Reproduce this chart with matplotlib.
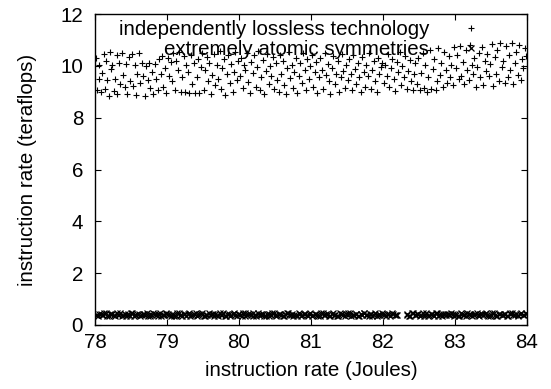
import numpy as np
import matplotlib
matplotlib.use('Agg')
import matplotlib.pyplot as plt

plt.rcParams['font.family'] = ['Liberation Sans', 'DejaVu Sans']
plt.rcParams['font.size'] = 14.8

# series 1: "independently lossless technology" (+ markers)
tech_x = [
    78.02, 78.03, 78.05, 78.06, 78.08, 78.10, 78.12, 78.14, 78.15, 78.17, 78.19, 78.21, 78.22, 78.24,
    78.26, 78.28, 78.30, 78.31, 78.33, 78.35, 78.37, 78.39, 78.41, 78.43, 78.45, 78.47, 78.49,
    78.51, 78.53, 78.55, 78.57, 78.59, 78.61, 78.63, 78.65, 78.67, 78.69, 78.71, 78.73, 78.75,
    78.77, 78.79, 78.81, 78.83, 78.85, 78.87, 78.89, 78.91, 78.93, 78.95, 78.97, 78.99,
    79.01, 79.03, 79.05, 79.07, 79.09, 79.11, 79.13, 79.15, 79.17, 79.19, 79.21, 79.23, 79.25,
    79.27, 79.29, 79.31, 79.33, 79.35, 79.37, 79.39, 79.41, 79.43, 79.45, 79.47, 79.49,
    79.51, 79.53, 79.55, 79.57, 79.59, 79.61, 79.63, 79.65, 79.67, 79.69, 79.71, 79.73, 79.75,
    79.77, 79.79, 79.81, 79.83, 79.85, 79.87, 79.89, 79.91, 79.93, 79.95, 79.97, 79.99,
    80.01, 80.03, 80.05, 80.07, 80.09, 80.11, 80.13, 80.15, 80.17, 80.19, 80.21, 80.23, 80.25,
    80.27, 80.29, 80.31, 80.33, 80.35, 80.37, 80.39, 80.41, 80.43, 80.45, 80.47, 80.49,
    80.51, 80.53, 80.55, 80.57, 80.59, 80.61, 80.63, 80.65, 80.67, 80.69, 80.71, 80.73, 80.75,
    80.77, 80.79, 80.81, 80.83, 80.85, 80.87, 80.89, 80.91, 80.93, 80.95, 80.97, 80.99,
    81.01, 81.03, 81.05, 81.07, 81.09, 81.11, 81.13, 81.15, 81.17, 81.19, 81.21, 81.23, 81.25,
    81.27, 81.29, 81.31, 81.33, 81.35, 81.37, 81.39, 81.41, 81.43, 81.45, 81.47, 81.49,
    81.51, 81.53, 81.55, 81.57, 81.59, 81.61, 81.63, 81.65, 81.67, 81.69, 81.71, 81.73, 81.75,
    81.77, 81.79, 81.81, 81.83, 81.85, 81.87, 81.89, 81.91, 81.93, 81.95, 81.97, 81.99,
    82.01, 82.03, 82.05, 82.07, 82.09, 82.11, 82.13, 82.15, 82.17, 82.19, 82.21, 82.23, 82.25,
    82.27, 82.29, 82.31, 82.33, 82.35, 82.37, 82.39, 82.41, 82.43, 82.45, 82.47, 82.49,
    82.51, 82.53, 82.55, 82.57, 82.59, 82.61, 82.63, 82.65, 82.67, 82.69, 82.71, 82.73, 82.75,
    82.77, 82.79, 82.81, 82.83, 82.85, 82.87, 82.89, 82.91, 82.93, 82.95, 82.97, 82.99,
    83.01, 83.03, 83.05, 83.07, 83.09, 83.11, 83.13, 83.15, 83.17, 83.19, 83.21, 83.23, 83.25,
    83.27, 83.29, 83.31, 83.33, 83.35, 83.37, 83.39, 83.41, 83.43, 83.45, 83.47, 83.49,
    83.51, 83.53, 83.55, 83.57, 83.59, 83.61, 83.63, 83.65, 83.67, 83.69, 83.71, 83.73, 83.75,
    83.77, 83.79, 83.81, 83.83, 83.85, 83.87, 83.89, 83.91, 83.93, 83.95, 83.97, 83.99,
]
tech_y = [
    10.30, 9.05, 10.02, 9.48, 8.98, 9.72, 10.45, 9.10, 10.20, 9.45, 8.85, 10.52, 9.88, 10.05,
    9.02, 9.50, 10.40, 8.92, 10.12, 9.30, 10.48, 9.65, 9.18, 10.08, 8.90, 10.35, 9.40,
    10.45, 9.22, 10.05, 8.88, 9.70, 10.50, 9.35, 10.10, 9.60, 8.85, 10.00, 9.45, 10.12,
    9.15, 9.75, 8.92, 10.08, 9.50, 9.05, 10.25, 9.68, 10.38, 9.20, 9.90, 8.95,
    10.30, 9.62, 10.15, 9.40, 10.48, 9.08, 10.20, 9.85, 10.55, 8.98, 9.55, 10.38, 9.00,
    10.05, 9.75, 8.96, 10.42, 9.30, 10.10, 8.97, 9.58, 10.28, 8.95, 9.95, 10.50,
    9.05, 9.82, 10.35, 9.40, 10.12, 8.92, 9.65, 10.45, 9.25, 10.02, 9.50, 10.58, 9.10,
    9.90, 10.25, 8.88, 9.70, 10.40, 9.35, 10.08, 9.00, 9.78, 10.52, 9.45, 10.18,
    9.60, 10.30, 9.15, 10.05, 9.85, 10.50, 9.38, 8.95, 10.15, 9.72, 10.40, 9.20, 9.95,
    10.58, 9.05, 9.55, 10.22, 8.90, 9.80, 10.45, 9.30, 10.00, 9.62, 10.35, 9.10,
    10.10, 9.45, 8.98, 10.42, 9.70, 10.20, 9.25, 8.92, 9.90, 10.55, 9.52, 10.05, 9.15,
    9.78, 10.32, 8.95, 9.60, 10.12, 9.35, 10.48, 9.82, 9.05, 10.25, 9.48, 9.98,
    10.40, 9.20, 9.75, 10.15, 8.95, 9.55, 10.30, 9.85, 9.10, 10.50, 9.65, 10.08, 9.40,
    8.90, 9.92, 10.38, 9.28, 9.70, 10.18, 9.00, 9.58, 10.45, 9.80, 9.15, 10.02,
    9.45, 10.25, 9.70, 9.05, 10.42, 9.88, 9.30, 10.10, 9.55, 8.98, 10.35, 9.78, 9.20,
    10.02, 9.62, 10.50, 9.12, 9.85, 10.20, 9.40, 9.00, 10.30, 9.68, 9.95, 10.12,
    9.35, 10.05, 9.60, 10.45, 9.18, 9.90, 10.28, 9.48, 9.02, 10.15, 9.75, 10.52, 9.25,
    9.98, 9.55, 10.38, 9.10, 9.80, 10.22, 9.42, 9.05, 9.70, 10.10, 9.30, 10.32,
    9.08, 9.72, 10.48, 9.15, 10.02, 9.00, 9.55, 10.60, 9.12, 9.88, 10.25, 9.05, 9.40,
    10.70, 9.65, 10.12, 9.20, 10.55, 9.82, 9.35, 10.38, 9.58, 10.05, 9.25, 10.72,
    9.90, 10.40, 9.48, 10.78, 9.62, 10.15, 9.30, 10.60, 9.85, 9.45, 10.82, 10.05, 9.70,
    10.30, 9.18, 9.95, 10.50, 9.55, 10.72, 9.25, 10.20, 9.80, 10.45, 9.60, 10.08,
    10.85, 9.22, 10.35, 9.70, 10.62, 9.40, 10.90, 9.95, 10.18, 9.32, 10.75, 9.58, 10.42,
    9.85, 10.88, 9.28, 10.10, 10.55, 9.65, 10.80, 9.45, 10.25, 9.90, 10.70, 10.38,
]

# series 2: "extremely atomic symmetries" (x markers), gap near 82.25
sym_x = [
    78.01, 78.04, 78.08, 78.11, 78.15, 78.19, 78.22, 78.26, 78.30, 78.33, 78.37, 78.41, 78.44, 78.48,
    78.52, 78.55, 78.59, 78.63, 78.66, 78.70, 78.74, 78.77, 78.81, 78.85, 78.88, 78.92, 78.96, 78.99,
    79.03, 79.07, 79.10, 79.14, 79.18, 79.21, 79.25, 79.29, 79.32, 79.36, 79.40, 79.43, 79.47, 79.51,
    79.54, 79.58, 79.62, 79.65, 79.69, 79.73, 79.76, 79.80, 79.84, 79.87, 79.91, 79.95, 79.98,
    80.02, 80.06, 80.09, 80.13, 80.17, 80.20, 80.24, 80.28, 80.31, 80.35, 80.39, 80.42, 80.46, 80.50,
    80.53, 80.57, 80.61, 80.64, 80.68, 80.72, 80.75, 80.79, 80.83, 80.86, 80.90, 80.94, 80.97,
    81.01, 81.05, 81.08, 81.12, 81.16, 81.19, 81.23, 81.27, 81.30, 81.34, 81.38, 81.41, 81.45, 81.49,
    81.52, 81.56, 81.60, 81.63, 81.67, 81.71, 81.74, 81.78, 81.82, 81.85, 81.89, 81.93, 81.96,
    82.00, 82.04, 82.08, 82.12, 82.16, 82.19,
    82.33, 82.36, 82.40, 82.44, 82.47, 82.51, 82.55, 82.58, 82.62, 82.66, 82.69, 82.73, 82.77,
    82.80, 82.84, 82.88, 82.91, 82.95, 82.98,
    83.00, 83.04, 83.08, 83.11, 83.15, 83.19, 83.22, 83.26, 83.30, 83.33, 83.37, 83.41, 83.44, 83.48,
    83.52, 83.55, 83.59, 83.63, 83.66, 83.70, 83.74, 83.77, 83.81, 83.85, 83.88, 83.92, 83.96, 83.99,
    78.03, 78.06, 78.10, 78.13, 78.17, 78.21, 78.24, 78.28, 78.32, 78.35, 78.39, 78.43, 78.46, 78.50,
    78.54, 78.57, 78.61, 78.65, 78.68, 78.72, 78.76, 78.79, 78.83, 78.87, 78.90, 78.94, 78.98,
    79.01, 79.05, 79.09, 79.12, 79.16, 79.20, 79.23, 79.27, 79.31, 79.34, 79.38, 79.42, 79.45, 79.49,
    79.53, 79.56, 79.60, 79.64, 79.67, 79.71, 79.75, 79.78, 79.82, 79.86, 79.89, 79.93, 79.97,
    80.00, 80.04, 80.08, 80.11, 80.15, 80.19, 80.22, 80.26, 80.30, 80.33, 80.37, 80.41, 80.44, 80.48,
    80.52, 80.55, 80.59, 80.63, 80.66, 80.70, 80.74, 80.77, 80.81, 80.85, 80.88, 80.92, 80.96, 80.99,
    81.03, 81.07, 81.10, 81.14, 81.18, 81.21, 81.25, 81.29, 81.32, 81.36, 81.40, 81.43, 81.47, 81.51,
    81.54, 81.58, 81.62, 81.65, 81.69, 81.73, 81.76, 81.80, 81.84, 81.87, 81.91, 81.95, 81.98,
    82.02, 82.06, 82.10, 82.14, 82.18,
    82.34, 82.38, 82.42, 82.46, 82.49, 82.53, 82.57, 82.60, 82.64, 82.68, 82.71, 82.75, 82.79,
    82.82, 82.86, 82.90, 82.93, 82.97,
    83.02, 83.06, 83.10, 83.13, 83.17, 83.21, 83.24, 83.28, 83.32, 83.35, 83.39, 83.43, 83.46, 83.50,
    83.54, 83.57, 83.61, 83.65, 83.68, 83.72, 83.76, 83.79, 83.83, 83.87, 83.90, 83.94, 83.98,
]
sym_y = [
    0.40, 0.35, 0.44, 0.38, 0.46, 0.33, 0.41, 0.37, 0.45, 0.39, 0.34, 0.43, 0.40, 0.36,
    0.47, 0.38, 0.42, 0.35, 0.44, 0.39, 0.33, 0.41, 0.46, 0.37, 0.43, 0.36, 0.40, 0.45,
    0.38, 0.42, 0.34, 0.46, 0.39, 0.36, 0.44, 0.41, 0.33, 0.40, 0.47, 0.37, 0.43, 0.35,
    0.39, 0.45, 0.42, 0.34, 0.38, 0.46, 0.40, 0.36, 0.44, 0.33, 0.41, 0.37, 0.43,
    0.39, 0.45, 0.35, 0.42, 0.38, 0.47, 0.34, 0.40, 0.44, 0.36, 0.41, 0.33, 0.46, 0.39,
    0.37, 0.43, 0.35, 0.42, 0.45, 0.38, 0.34, 0.40, 0.47, 0.36, 0.43, 0.39, 0.41,
    0.36, 0.44, 0.40, 0.34, 0.46, 0.38, 0.42, 0.35, 0.45, 0.39, 0.33, 0.43, 0.37, 0.41,
    0.47, 0.36, 0.40, 0.44, 0.34, 0.39, 0.46, 0.37, 0.42, 0.35, 0.45, 0.38, 0.40,
    0.43, 0.35, 0.41, 0.46, 0.37, 0.40,
    0.38, 0.34, 0.45, 0.39, 0.42, 0.36, 0.47, 0.40, 0.33, 0.43, 0.38, 0.45, 0.35,
    0.41, 0.44, 0.37, 0.39, 0.46, 0.34,
    0.42, 0.36, 0.45, 0.39, 0.33, 0.44, 0.40, 0.37, 0.46, 0.35, 0.41, 0.43, 0.38, 0.34,
    0.47, 0.40, 0.36, 0.44, 0.39, 0.42, 0.35, 0.45, 0.37, 0.41, 0.33, 0.46, 0.39, 0.43,
    0.37, 0.43, 0.39, 0.46, 0.34, 0.41, 0.44, 0.36, 0.40, 0.47, 0.38, 0.35, 0.42, 0.45,
    0.33, 0.40, 0.44, 0.37, 0.41, 0.46, 0.35, 0.39, 0.43, 0.34, 0.45, 0.38, 0.42,
    0.44, 0.36, 0.40, 0.33, 0.45, 0.38, 0.42, 0.35, 0.47, 0.39, 0.43, 0.36, 0.41, 0.46,
    0.34, 0.40, 0.37, 0.44, 0.42, 0.35, 0.39, 0.45, 0.33, 0.41, 0.38, 0.46, 0.36,
    0.41, 0.34, 0.46, 0.39, 0.43, 0.35, 0.40, 0.45, 0.37, 0.42, 0.33, 0.44, 0.38, 0.47,
    0.36, 0.41, 0.39, 0.34, 0.46, 0.40, 0.43, 0.37, 0.35, 0.44, 0.38, 0.42, 0.36, 0.45,
    0.39, 0.43, 0.35, 0.47, 0.38, 0.41, 0.34, 0.44, 0.40, 0.36, 0.46, 0.42, 0.33, 0.39,
    0.45, 0.37, 0.43, 0.35, 0.41, 0.47, 0.38, 0.34, 0.44, 0.40, 0.36, 0.42, 0.46,
    0.38, 0.44, 0.36, 0.42, 0.39,
    0.41, 0.35, 0.46, 0.37, 0.43, 0.40, 0.34, 0.45, 0.38, 0.42, 0.36, 0.47, 0.39,
    0.33, 0.44, 0.41, 0.37, 0.43,
    0.40, 0.35, 0.43, 0.38, 0.46, 0.41, 0.34, 0.44, 0.37, 0.42, 0.39, 0.47, 0.36, 0.40,
    0.45, 0.33, 0.41, 0.38, 0.44, 0.35, 0.42, 0.46, 0.39, 0.37, 0.43, 0.40, 0.45,
]

labels = ['independently lossless technology', 'extremely atomic symmetries']

fig = plt.figure(figsize=(5.51, 3.89), dpi=100)
ax = fig.add_axes([95 / 551, 1 - 325 / 389, 432 / 551, 311 / 389])

ax.plot(tech_x, tech_y, ls='none', marker='+', ms=4.2, mew=0.8, color='black', label=labels[0])
ax.plot(sym_x, sym_y, ls='none', marker='x', ms=4.0, mew=0.9, color='black', label=labels[1])

ax.set_xlim(78, 84)
ax.set_ylim(0, 12)
ax.set_xticks(np.arange(78, 85, 1))
ax.set_yticks(np.arange(0, 13, 2))
ax.tick_params(direction='in', top=True, right=True, length=4, width=0.8)
ax.tick_params(axis='x', pad=6)
ax.tick_params(axis='y', pad=8.5)
for s in ax.spines.values():
    s.set_linewidth(1.0)

ax.set_xlabel('instruction rate (Joules)', labelpad=6)
ax.set_ylabel('instruction rate (teraflops)', labelpad=17)

leg = ax.legend(loc='upper right', bbox_to_anchor=(0.949, 0.981), borderaxespad=0, borderpad=0,
                frameon=False, markerfirst=False, handlelength=3.3, handletextpad=0.4,
                labelspacing=0.05, numpoints=1)

plt.savefig('out.png', dpi=100)
